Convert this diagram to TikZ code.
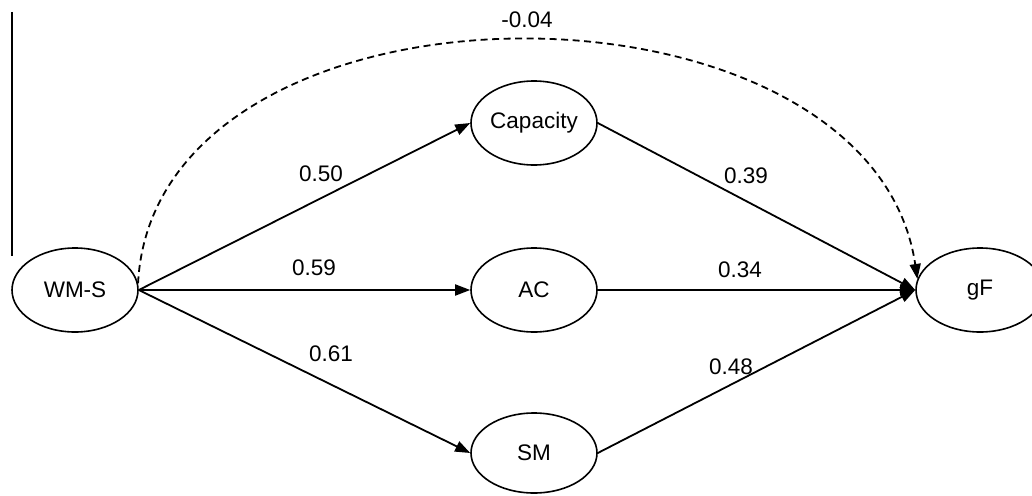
\documentclass[tikz,border=0pt]{standalone}
\usepackage{fontspec}
\setmainfont{Liberation Sans}
\usetikzlibrary{shapes.geometric,arrows.meta}
\begin{document}
\begin{tikzpicture}[x=1pt,y=-1pt,
  every node/.style={font=\fontsize{22.5}{26}\selectfont},
  latent/.style={draw,ellipse,line width=1.6pt,minimum width=126pt,minimum height=84pt,inner sep=0pt},
  path/.style={line width=1.8pt,-{Triangle[length=15pt,width=11pt]}},
  coef/.style={inner sep=0pt}]
\useasboundingbox (0,0) rectangle (1032,495);
\fill[white] (0,0) rectangle (1032,495);
\coordinate (vt) at (12,12);
\coordinate (vb) at (12,256);
\draw[line width=1.4pt] (vt) -- (vb);
\node[latent] (wms) at (75,290) {WM-S};
\node[latent] (cap) at (534,123) {Capacity};
\node[latent] (ac) at (534,290) {AC};
\node[latent,minimum height=80pt] (sm) at (534,453) {SM};
\node[latent,minimum width=128pt] (gf) at (980,290) {gF};
\draw[path] (wms.east) -- (cap.west);
\draw[path] (wms.east) -- (ac.west);
\draw[path] (wms.east) -- (sm.west);
\draw[path] (cap.east) -- (gf.west);
\draw[path] (ac.east) -- (gf.west);
\draw[path] (sm.east) -- (gf.west);
\draw[path,dash pattern=on 7pt off 4.5pt] (wms.6) .. controls (155,-40) and (870,-40) .. (gf.170);
\node[coef] (l0) at (527,20) {-0.04};
\node[coef] (l1) at (321,174) {0.50};
\node[coef] (l2) at (314,268) {0.59};
\node[coef] (l3) at (331,354) {0.61};
\node[coef] (l4) at (746,176) {0.39};
\node[coef] (l5) at (740,270) {0.34};
\node[coef] (l6) at (731,367) {0.48};
\end{tikzpicture}
\end{document}
